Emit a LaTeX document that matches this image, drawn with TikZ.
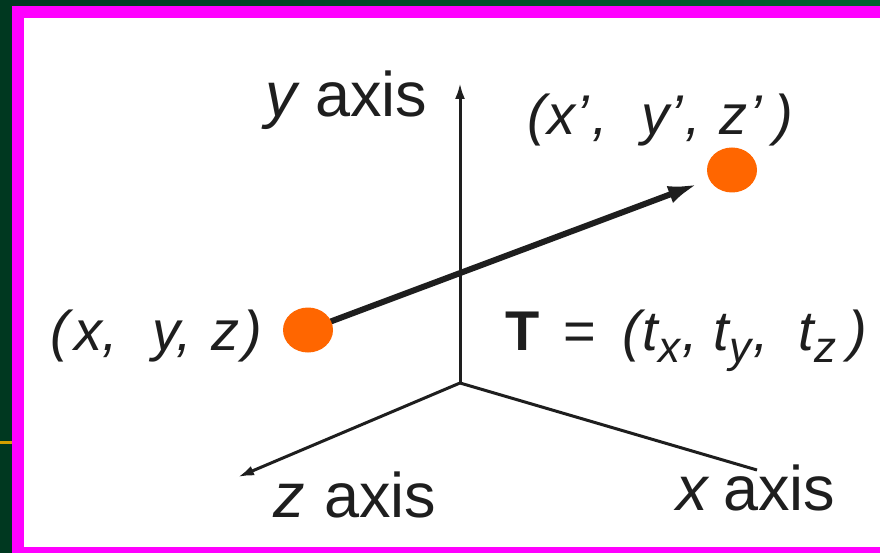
\documentclass[tikz,border=0pt]{standalone}
\usepackage{fontspec}
\setmainfont{Liberation Sans}
\usetikzlibrary{arrows.meta,shapes.geometric}
\definecolor{bgA}{RGB}{0,56,32}
\definecolor{bgB}{RGB}{0,98,48}
\definecolor{frame}{RGB}{255,0,255}
\definecolor{dotc}{RGB}{255,102,0}
\definecolor{ink}{RGB}{30,30,30}
\definecolor{goldline}{RGB}{212,160,0}
\newcommand{\sbx}[1]{\raisebox{-12pt}{\fontsize{44}{46}\selectfont #1}}
\begin{document}
\begin{tikzpicture}[x=1pt,y=-1pt,
  axisline/.style={draw=ink,line width=3pt},
  lbl/.style={text=ink,inner sep=0pt,anchor=base west,font=\fontsize{56}{60}\selectfont},
  axlbl/.style={text=ink,inner sep=0pt,anchor=base west,font=\fontsize{63}{66}\selectfont},
  dot/.style={ellipse,fill=dotc,minimum width=50pt,minimum height=45pt,inner sep=0pt}]
\useasboundingbox (0,0) rectangle (880,553);
\shade[left color=bgA,right color=bgB] (0,0) rectangle (880,553);
\fill[goldline] (0,441) rectangle (12,444);
\fill[frame] (12,6) rectangle (880,553);
\fill[white] (24,18) rectangle (880,547);
% axes
\coordinate (O) at (460,383);
\coordinate (Ytip) at (460,83);
\coordinate (Ztip) at (238,477);
\coordinate (Xend) at (757,470);
\draw[axisline,-{Latex[length=16pt,width=10pt]}] (O) -- (Ytip);
\draw[axisline,-{Latex[length=16pt,width=10pt]}] (O) -- (Ztip);
\draw[axisline] (O) -- (Xend);
% translation vector
\coordinate (P) at (308,330);
\coordinate (Ptip) at (698,184);
\draw[draw=ink,line width=6pt,-{Latex[length=30pt,width=18pt]}] (P) -- (Ptip);
\node[dot] (p1) at (P) {};
\node[dot] (p2) at (732,170) {};
% labels
\node[axlbl] (ylab) at (265,117) {\textit{y}\kern-2pt{} axis};
\node[axlbl] (zlab) at (273,517) {\textit{z}\kern2pt{} axis};
\node[axlbl] (xlab) at (676,510) {\textit{x}\kern-4pt{} axis};
\node[lbl] (plab) at (50,350) {\textit{(\kern6pt x,\kern34pt y,\kern20pt z\kern4pt)}};
\node[lbl] (qlab) at (527,135) {\textit{(\kern2pt x\kern1pt’\kern3pt,\kern34pt y\kern1pt’\kern2pt,\kern19pt z\kern2pt’\kern12pt)}};
\node[lbl] (tlab) at (505,350) {\textbf{T}\kern24pt=\kern26pt\textit{(\kern2pt t\sbx{x}\kern2pt,\kern16pt t\sbx{y}\kern2pt,\kern30pt t\sbx{z}\kern12pt)}};
\end{tikzpicture}
\end{document}
